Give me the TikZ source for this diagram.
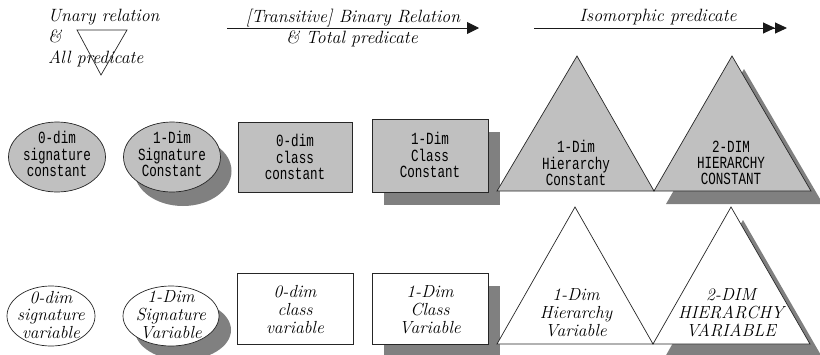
\documentclass[tikz,border=0pt]{standalone}
\usepackage{fontspec}
\newfontfamily\cnmono[FakeStretch=0.74]{Liberation Mono}
\usetikzlibrary{arrows.meta,shapes.geometric}
\definecolor{fillg}{HTML}{C0C0C0}
\definecolor{shadg}{HTML}{808080}
\tikzset{
  cst/.style={font=\cnmono\fontsize{17}{16.3}\selectfont, align=center, inner sep=0pt},
  var/.style={font=\itshape\fontsize{17.5}{17.8}\selectfont, align=center, inner sep=0pt},
  lbl/.style={font=\itshape\fontsize{17.8}{21}\selectfont, inner sep=0pt},
  shp/.style={draw=black!85, line width=0.7pt},
  gshape/.style={shp, fill=fillg},
  wshape/.style={shp, fill=white},
  shad/.style={fill=shadg, draw=none},
  ell/.style={ellipse, inner sep=0pt},
  box/.style={rectangle, inner sep=0pt},
  arr/.style={line width=0.9pt, draw=black!90},
}
\begin{document}
\begin{tikzpicture}[x=1pt,y=-1pt]
\useasboundingbox (0,0) rectangle (820,354);
\clip (0,0) rectangle (820,354);

% ---------- header ----------
\node[lbl, anchor=north west, align=left] (unary) at (48,9) {Unary relation\\\&\\All predicate};
\coordinate (d1) at (77,30);
\coordinate (d2) at (127,30);
\coordinate (d3) at (101,75);
\draw[shp] (d1) -- (d2) -- (d3) -- cycle;

\coordinate (a1s) at (227,28);
\coordinate (a1e) at (479,28);
\draw[arr, -{Triangle[length=12pt,width=12pt]}] (a1s) -- (a1e);
\node[lbl, anchor=base] (bin) at (353,22) {[Transitive] Binary Relation};
\node[lbl, anchor=base] (tot) at (352,43) {\& Total predicate};

\coordinate (a2s) at (534,28);
\coordinate (a2e) at (787,28);
\draw[arr, -{Triangle[length=12pt,width=11pt]Triangle[length=12pt,width=11pt]}] (a2s) -- (a2e);
\node[lbl, anchor=base] (iso) at (658,21) {Isomorphic predicate};

% ---------- top row (constants) ----------
\node[ell, gshape, minimum width=97pt, minimum height=70pt] (e1) at (57,157) {};
\node[cst] (e1t) at (57,154) {0-dim\\signature\\constant};

\node[ell, shad, minimum width=97pt, minimum height=70pt] (e2s) at (183,171) {};
\node[ell, gshape, minimum width=97pt, minimum height=70pt] (e2) at (172,157) {};
\node[cst] (e2t) at (172,154) {1-Dim\\Signature\\Constant};

\node[box, gshape, minimum width=114pt, minimum height=70pt] (r1) at (295,157) {};
\node[cst] (r1t) at (295,157) {0-dim\\class\\constant};

\node[box, shad, minimum width=116pt, minimum height=73pt] (r2s) at (442,168.5) {};
\node[box, gshape, minimum width=116pt, minimum height=73pt] (r2) at (430,155.5) {};
\node[cst] (r2t) at (430,155) {1-Dim\\Class\\Constant};

\coordinate (t1a) at (497,191);
\coordinate (t1b) at (577,56);
\coordinate (t1c) at (654,191);
\draw[gshape] (t1a) -- (t1b) -- (t1c) -- cycle;
\node[cst] (t1t) at (576,163) {1-Dim\\Hierarchy\\Constant};

\coordinate (t2sa) at (666,204);
\coordinate (t2sb) at (744,69);
\coordinate (t2sc) at (823,204);
\fill[shadg] (t2sa) -- (t2sb) -- (t2sc) -- cycle;
\coordinate (t2a) at (654,191);
\coordinate (t2b) at (732,56);
\coordinate (t2c) at (811,191);
\draw[gshape] (t2a) -- (t2b) -- (t2c) -- cycle;
\node[cst] (t2t) at (731,163) {2-DIM\\HIERARCHY\\CONSTANT};

% ---------- bottom row (variables) ----------
\node[ell, wshape, minimum width=88pt, minimum height=60pt] (e3) at (51,316) {};
\node[var] (e3t) at (51,315) {0-dim\\signature\\variable};

\node[ell, shad, minimum width=96pt, minimum height=60pt] (e4s) at (183,330) {};
\node[ell, wshape, minimum width=96pt, minimum height=60pt] (e4) at (171,316) {};
\node[var] (e4t) at (171,315) {1-Dim\\Signature\\Variable};

\node[box, wshape, minimum width=116pt, minimum height=71pt] (r3) at (295,308.5) {};
\node[var] (r3t) at (295,309.5) {0-dim\\class\\variable};

\node[box, shad, minimum width=116pt, minimum height=71pt] (r4s) at (442,321.5) {};
\node[box, wshape, minimum width=116pt, minimum height=71pt] (r4) at (430,308.5) {};
\node[var] (r4t) at (430,309.5) {1-Dim\\Class\\Variable};

\coordinate (t3a) at (497,344);
\coordinate (t3b) at (575,207);
\coordinate (t3c) at (653,344);
\draw[wshape] (t3a) -- (t3b) -- (t3c) -- cycle;
\node[var] (t3t) at (576,313) {1-Dim\\Hierarchy\\Variable};

\coordinate (t4sa) at (665,357);
\coordinate (t4sb) at (743,220);
\coordinate (t4sc) at (822,357);
\fill[shadg] (t4sa) -- (t4sb) -- (t4sc) -- cycle;
\coordinate (t4a) at (653,344);
\coordinate (t4b) at (731,207);
\coordinate (t4c) at (810,344);
\draw[wshape] (t4a) -- (t4b) -- (t4c) -- cycle;
\node[var] (t4t) at (731,313) {2-DIM\\HIERARCHY\\VARIABLE};
\end{tikzpicture}
\end{document}
